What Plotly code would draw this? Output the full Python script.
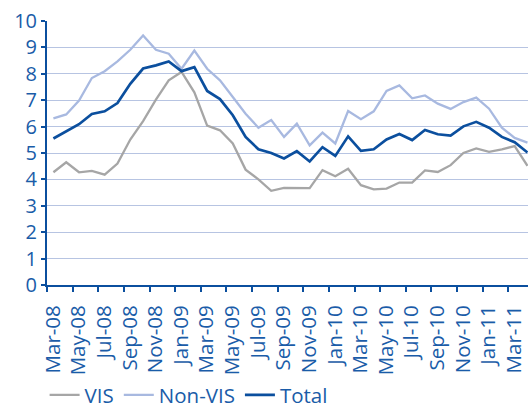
import plotly.graph_objects as go

months = ["Mar-08","Apr-08","May-08","Jun-08","Jul-08","Aug-08","Sep-08","Oct-08","Nov-08","Dec-08",
          "Jan-09","Feb-09","Mar-09","Apr-09","May-09","Jun-09","Jul-09","Aug-09","Sep-09","Oct-09",
          "Nov-09","Dec-09","Jan-10","Feb-10","Mar-10","Apr-10","May-10","Jun-10","Jul-10","Aug-10",
          "Sep-10","Oct-10","Nov-10","Dec-10","Jan-11","Feb-11","Mar-11","Apr-11"]

vis = [4.27, 4.65, 4.27, 4.32, 4.18, 4.60, 5.51, 6.21, 7.02, 7.75,
       8.07, 7.30, 6.04, 5.86, 5.36, 4.37, 4.00, 3.57, 3.68, 3.68,
       3.67, 4.35, 4.12, 4.40, 3.78, 3.62, 3.65, 3.88, 3.88, 4.34,
       4.28, 4.54, 5.00, 5.17, 5.04, 5.14, 5.26, 4.51]

non_vis = [6.31, 6.46, 6.99, 7.84, 8.10, 8.47, 8.91, 9.45, 8.91, 8.76,
           8.19, 8.88, 8.19, 7.75, 7.12, 6.49, 5.96, 6.25, 5.61, 6.11,
           5.29, 5.77, 5.36, 6.59, 6.28, 6.58, 7.35, 7.56, 7.07, 7.18,
           6.87, 6.67, 6.93, 7.10, 6.68, 5.96, 5.57, 5.39]

total = [5.55, 5.82, 6.09, 6.48, 6.58, 6.89, 7.62, 8.20, 8.32, 8.47,
         8.10, 8.25, 7.35, 7.04, 6.43, 5.61, 5.14, 5.00, 4.79, 5.07,
         4.68, 5.22, 4.89, 5.63, 5.08, 5.14, 5.51, 5.72, 5.49, 5.87,
         5.71, 5.66, 6.01, 6.18, 5.96, 5.61, 5.41, 5.02]

y_ticks = list(range(0, 11))

AXIS = "#0B4F9E"
TEXT = "#1A5CA8"
GRID = "#B7C4E2"
FONT = "Open Sans"

x = list(range(len(months)))
tick_pos = [i - 0.5 for i in range(0, len(months), 2)]
tick_txt = [months[i] for i in range(0, len(months), 2)]

fig = go.Figure()
fig.add_trace(go.Scatter(x=x, y=vis, name="VIS", mode="lines",
                         line=dict(color="#A6A6A6", width=2.3)))
fig.add_trace(go.Scatter(x=x, y=non_vis, name="Non-VIS", mode="lines",
                         line=dict(color="#A8B9E0", width=2.3)))
fig.add_trace(go.Scatter(x=x, y=total, name="Total", mode="lines",
                         line=dict(color=AXIS, width=2.7)))

fig.update_layout(
    width=528, height=408,
    margin=dict(l=47, r=0, t=21, b=123, autoexpand=False),
    paper_bgcolor="white", plot_bgcolor="white",
    font=dict(family=FONT, color=TEXT, size=20),
    showlegend=True,
    legend=dict(orientation="h", y=-0.417, yanchor="middle",
                x=-0.005, xanchor="left", font=dict(size=20.5, color=TEXT),
                itemwidth=30, tracegroupgap=0, bgcolor="rgba(0,0,0,0)"),
)
fig.update_xaxes(
    range=[-0.5, 37.04], tickmode="array", tickvals=tick_pos, ticktext=tick_txt,
    tickangle=-90, ticklabelshift=6, ticklabelstandoff=5,
    ticks="outside", ticklen=5, tickwidth=1.5,
    tickcolor=AXIS, showline=True, linecolor=AXIS, linewidth=2,
    showgrid=False, zeroline=False, tickfont=dict(size=20.5, color=TEXT),
    automargin=False,
)
fig.update_yaxes(
    range=[0, 10], tickmode="array", tickvals=y_ticks,
    ticks="outside", ticklen=4, tickwidth=1.5, tickcolor=AXIS,
    showline=True, linecolor=AXIS, linewidth=2,
    showgrid=True, gridcolor=GRID, gridwidth=1.3, zeroline=False,
    tickfont=dict(size=20, color=TEXT), automargin=False,
)

fig.write_html("out.html", config={"displayModeBar": False},
               post_script="document.body.style.margin='0px';document.body.style.overflow='hidden';")
